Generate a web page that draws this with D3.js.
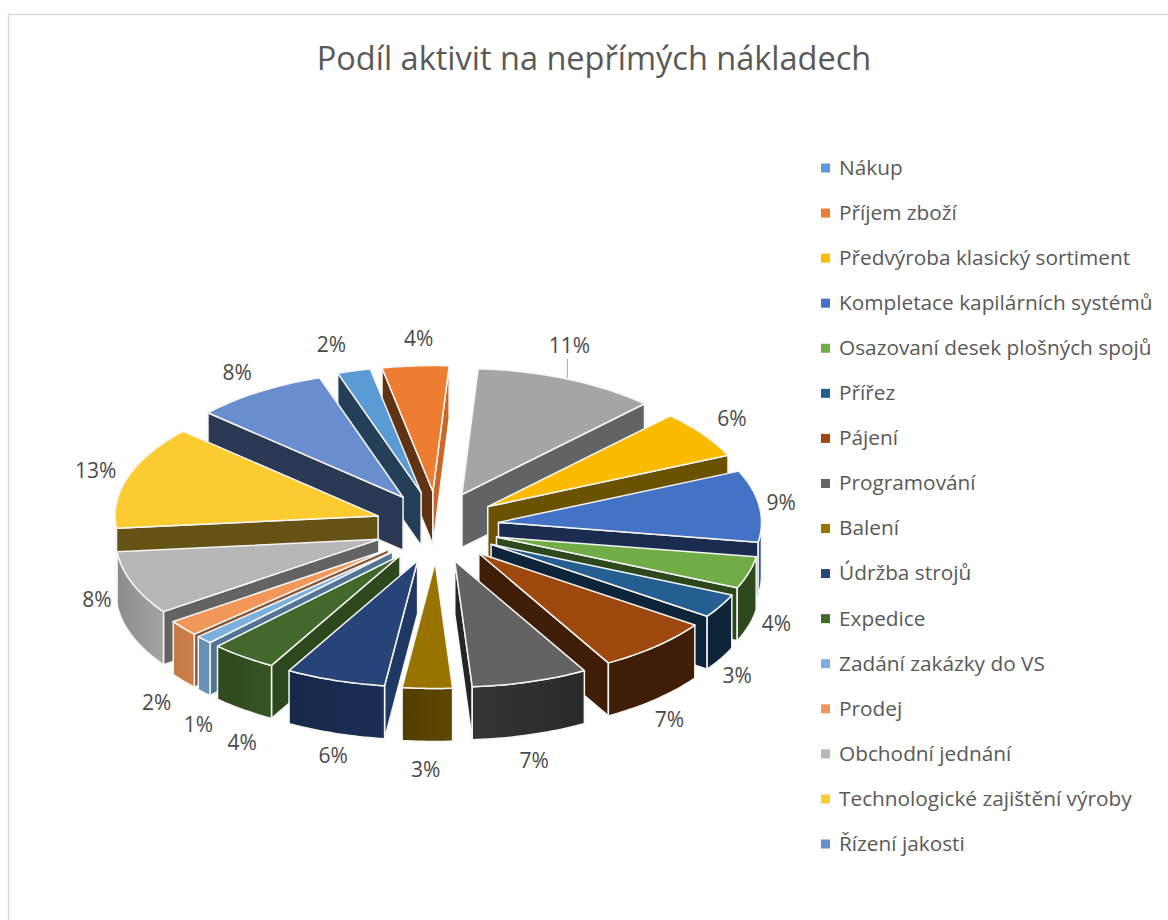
<!DOCTYPE html>
<html lang="cs">
<head>
<meta charset="utf-8">
<title>Podíl aktivit na nepřímých nákladech</title>
<script src="https://d3js.org/d3.v7.min.js"></script>
<style>
  html, body { margin: 0; padding: 0; background: #fff; }
  svg { display: block; }
  text { font-family: "Open Sans", "Noto Sans", sans-serif; }
</style>
</head>
<body>
<svg id="chart" width="1168" height="920"></svg>
<script>
// Activity shares, in pie order (clockwise from the upper left).
const titleText = "Podíl aktivit na nepřímých nákladech";
const activities = [
  "Nákup", "Příjem zboží", "", "Předvýroba klasický sortiment",
  "Kompletace kapilárních systémů", "Osazovaní desek plošných spojů", "Přířez",
  "Pájení", "Programování", "Balení", "Údržba strojů", "Expedice",
  "Zadání zakázky do VS", "Prodej", "Obchodní jednání",
  "Technologické zajištění výroby", "Řízení jakosti"
];
const shares = [2, 4, 11, 6, 9, 4, 3, 7, 7, 3, 6, 4, 1, 2, 8, 13, 8];

// Face colours of each wedge.
const topColors = ["#5b9bd5", "#ed7d31", "#a5a5a5", "#fbbc00", "#4472c4", "#70ad47", "#255e91", "#9e480e",
  "#636363", "#997300", "#264478", "#43682b", "#7cafdd", "#f1975a", "#b7b7b7", "#fccb2f", "#698ed0"];
const startWallColors = ["#234058", "#5f3314", "#636363", "#6b5200", "#1c2c50", "#2e481e", "#0e2438", "#401d06",
  "#252525", "#5a4400", "#1f3864", "#2e481e", "#4f7495", "#8b5534", "#636363", "#665215", "#2a3854"];
const endWallColors = ["#234058", "#c9682a", "#636363", "#6b5200", "#1c2c50", "#2e481e", "#0e2438", "#401d06",
  "#252525", "#5a4400", "#1f3864", "#2e481e", "#4f7495", "#8b5534", "#636363", "#665215", "#2a3854"];
const outerLeftColors = ["#345", "#634", "#666", "#650", "#2f5597", "#2e481e", "#0e2438", "#401d06",
  "#2a2a2a", "#5f4800", "#1b2f57", "#365423", "#6591b8", "#cc8049", "#a3a3a3", "#665215", "#2a3854"];
const outerRightColors = ["#345", "#634", "#666", "#650", "#2f5597", "#2e481e", "#0e2438", "#401d06",
  "#353535", "#523e00", "#162848", "#2f4a1f", "#6591b8", "#c47a45", "#8c8c8c", "#665215", "#2a3854"];

// Printed offsets that keep each percentage label clear of its wedge.
const labelNudgeX = [-11, 10, -4, 11, -3, 1, -9, -9, -10, -8, -1, 8, 7, -12, -15, -8, -4];
const labelNudgeY = [-3, -3, -9, 2, 4, -9, 5, 2, 1, 1, -5, 9, 10, 1, -51, 0, 0];

// Projection of the tilted pie.
const cx = 437, cy = 527;
const rx = 263, ry = 126;
const explodeX = 62, explodeY = 35.5;
const depth = 53;
const labelCx = 438, labelCy = 525.5;
const labelRx = 350, labelRy = 185, labelDrop = 58;
const labelTwist = -1 * Math.PI / 180;
const firstAngle = -18.5 * Math.PI / 180;

const svg = d3.select("#chart");
const defs = svg.append("defs");

// Chart frame: only the top and left edges fall inside the page.
svg.append("path")
  .attr("d", "M8.5 920V14.5H1168")
  .attr("fill", "none")
  .attr("stroke", "#d9d9d9")
  .attr("stroke-width", 1.5);

svg.append("text")
  .attr("x", 594).attr("y", 70)
  .attr("text-anchor", "middle")
  .attr("font-size", 32.5)
  .attr("fill", "#595959")
  .text(titleText);

const pie = d3.pie().sort(null).startAngle(firstAngle).endAngle(firstAngle + 2 * Math.PI);
const wedges = pie(shares).map((d, i) => {
  const mid = (d.startAngle + d.endAngle) / 2;
  return {
    i, a0: d.startAngle, a1: d.endAngle, mid,
    ax: cx + explodeX * Math.sin(mid),
    ay: cy - explodeY * Math.cos(mid)
  };
});

const line = d3.line();
const rimPoint = (w, a, dz = 0) => [w.ax + rx * Math.sin(a), w.ay - ry * Math.cos(a) + dz];
const sampleAngles = (a0, a1) => {
  const n = Math.max(2, Math.ceil((a1 - a0) / 0.02));
  return d3.range(n + 1).map(k => a0 + (a1 - a0) * k / n);
};

const layer = svg.append("g")
  .attr("stroke", "#f6f6f6")
  .attr("stroke-width", 1.5)
  .attr("stroke-linejoin", "round");

// Back wedges first so nearer ones cover them.
wedges.slice().sort((p, q) => p.ay - q.ay).forEach(w => {
  const g = layer.append("g");
  const apex = [w.ax, w.ay], apexLow = [w.ax, w.ay + depth];

  if (Math.sin(w.a0) < 0) {
    g.append("path")
      .attr("d", line([apex, rimPoint(w, w.a0), rimPoint(w, w.a0, depth), apexLow]) + "Z")
      .attr("fill", startWallColors[w.i]);
  }
  if (Math.sin(w.a1) > 0) {
    g.append("path")
      .attr("d", line([apex, rimPoint(w, w.a1), rimPoint(w, w.a1, depth), apexLow]) + "Z")
      .attr("fill", endWallColors[w.i]);
  }

  // Curved outer wall, only on the arc facing the viewer.
  const lo = Math.PI / 2;
  const hi = 3 * Math.PI / 2;
  const norm = a => (a < 0 ? a + 2 * Math.PI : a);
  const b0 = Math.max(norm(w.a0), lo), b1 = Math.min(norm(w.a0) + (w.a1 - w.a0), hi);
  if (b1 > b0) {
    const gradId = "outer" + w.i;
    const grad = defs.append("linearGradient").attr("id", gradId);
    grad.append("stop").attr("offset", 0).attr("stop-color", outerRightColors[w.i]);
    grad.append("stop").attr("offset", 1).attr("stop-color", outerLeftColors[w.i]);
    const angles = sampleAngles(b0, b1);
    const upper = angles.map(a => rimPoint(w, a));
    const lower = angles.map(a => rimPoint(w, a, depth)).reverse();
    g.append("path")
      .attr("d", line(upper.concat(lower)) + "Z")
      .attr("fill", `url(#${gradId})`);
  }

  const rim = sampleAngles(w.a0, w.a1).map(a => rimPoint(w, a));
  g.append("path")
    .attr("d", line([apex].concat(rim)) + "Z")
    .attr("fill", topColors[w.i]);
});

// Percentage labels around the pie.
const labelX = w => labelCx + labelRx * Math.sin(w.mid + labelTwist) + labelNudgeX[w.i];
const labelY = w => labelCy - labelRy * Math.cos(w.mid + labelTwist)
  + (Math.cos(w.mid + labelTwist) < 0 ? labelDrop : 0) + labelNudgeY[w.i];

svg.append("g").selectAll("text").data(wedges).join("text")
  .attr("x", labelX)
  .attr("y", labelY)
  .attr("dy", "0.35em")
  .attr("text-anchor", "middle")
  .attr("font-size", 21)
  .attr("fill", "#4a4a4a")
  .text(w => shares[w.i] + "%");

// Leader from the largest back wedge up to its label.
const leaderWedge = wedges[2];
svg.append("line")
  .attr("x1", labelX(leaderWedge) - 2)
  .attr("x2", labelX(leaderWedge) - 2)
  .attr("y1", labelY(leaderWedge) + 13)
  .attr("y2", rimPoint(leaderWedge, leaderWedge.mid)[1] - 1)
  .attr("stroke", "#a6a6a6")
  .attr("stroke-width", 1);

// Legend (the unnamed wedge has no entry).
const legendItems = wedges.filter(w => activities[w.i] !== "");
const legendY = d3.scalePoint().domain(legendItems.map(w => w.i)).range([168, 844]);
const legend = svg.append("g").selectAll("g").data(legendItems).join("g")
  .attr("transform", w => `translate(821,${legendY(w.i)})`);
legend.append("rect")
  .attr("x", 0).attr("y", -4.5).attr("width", 9).attr("height", 9)
  .attr("fill", w => topColors[w.i]);
legend.append("text")
  .attr("x", 18).attr("dy", "0.33em")
  .attr("font-size", 20.8)
  .attr("fill", "#595959")
  .text(w => activities[w.i]);
</script>
</body>
</html>
